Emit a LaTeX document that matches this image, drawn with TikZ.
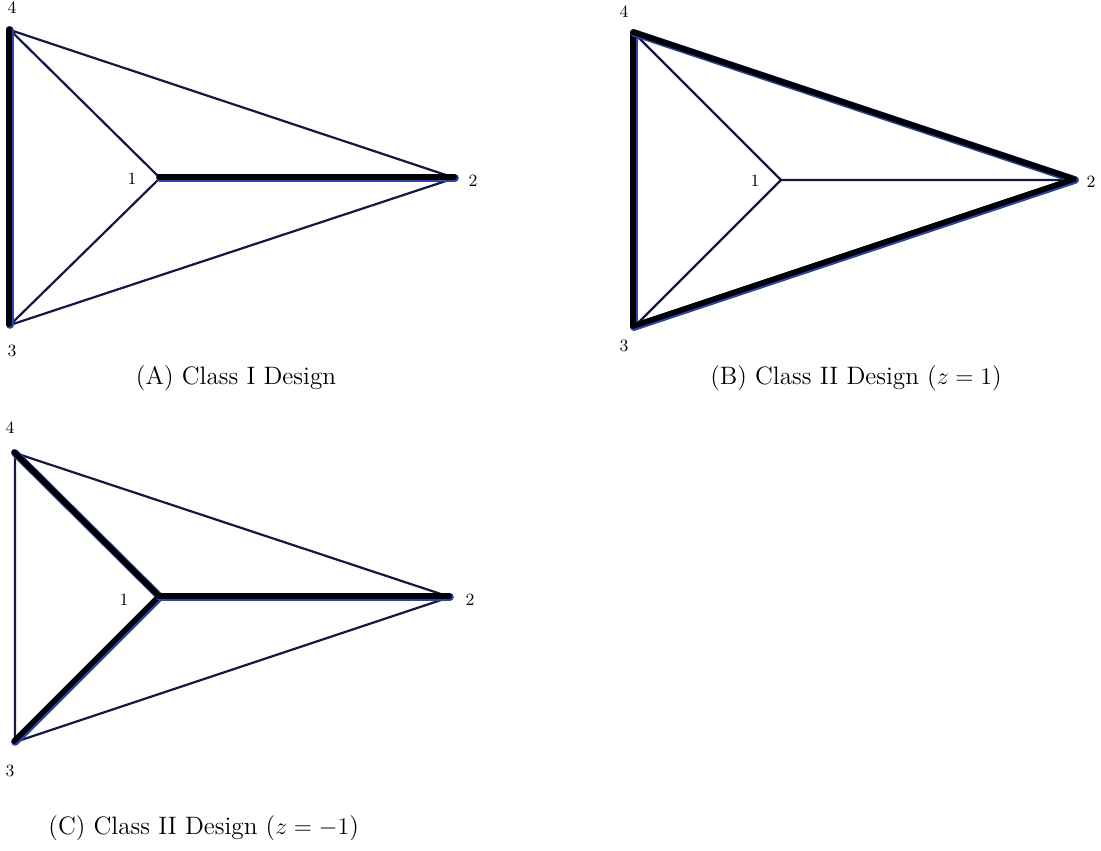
\documentclass[tikz,border=0pt]{standalone}
\usepackage{amsmath}
\usepackage{tikz}
\usepackage{xcolor}
\definecolor{edgeblue}{RGB}{45,70,170}
\definecolor{inkblue}{RGB}{20,22,70}
\tikzset{
  edgeline/.style={draw=inkblue,line width=1.1pt},
  boldedge/.style={draw=edgeblue,line width=3.8pt,line cap=round,
    postaction={draw=black,line width=2.8pt,line cap=round,
      transform canvas={shift={(-0.45pt,0.45pt)}}}},
  vlabel/.style={font=\fontsize{8.6}{10}\selectfont,inner sep=0pt},
  caption/.style={font=\fontsize{12.6}{15}\selectfont,inner sep=0pt}
}
\begin{document}
\begin{tikzpicture}[x=0.5pt,y=-0.5pt]
\useasboundingbox (0,0) rectangle (1101,850);
% (A) Class I Design
\coordinate (a1) at (160,178);
\coordinate (a2) at (455,178);
\coordinate (a3) at (10,325);
\coordinate (a4) at (10,30);
\draw[edgeline](a4)--(a2) (a3)--(a2) (a4)--(a1) (a3)--(a1);
\draw[boldedge](a4)--(a3);
\draw[boldedge](a1)--(a2);
\node[vlabel](la1) at (132,179){1};
\node[vlabel](la2) at (473,181){2};
\node[vlabel](la3) at (12,351){3};
\node[vlabel](la4) at (12,8){4};
\node[caption](capa) at (236,378){(A) Class I Design};
% (B) Class II Design, z=1
\coordinate (b1) at (781,180);
\coordinate (b2) at (1075,180);
\coordinate (b3) at (634,327);
\coordinate (b4) at (634,33);
\draw[edgeline](b4)--(b1) (b3)--(b1) (b1)--(b2);
\draw[boldedge](b4)--(b3);
\draw[boldedge](b4)--(b2);
\draw[boldedge](b3)--(b2);
\node[vlabel](lb1) at (755,181){1};
\node[vlabel](lb2) at (1091,182){2};
\node[vlabel](lb3) at (624,346){3};
\node[vlabel](lb4) at (624,12){4};
\node[caption](capb) at (856,378){(B) Class II Design ($z=1$)};
% (C) Class II Design, z=-1
\coordinate (c1) at (160,597);
\coordinate (c2) at (450,597);
\coordinate (c3) at (15,742);
\coordinate (c4) at (15,453);
\draw[edgeline](c4)--(c3) (c4)--(c2) (c3)--(c2);
\draw[boldedge](c4)--(c1);
\draw[boldedge](c3)--(c1);
\draw[boldedge](c1)--(c2);
\node[vlabel](lc1) at (124,600){1};
\node[vlabel](lc2) at (470,600){2};
\node[vlabel](lc3) at (10,771){3};
\node[vlabel](lc4) at (10,428){4};
\node[caption,anchor=west](capc) at (48,828){(C) Class II Design ($z=-1$)};
\end{tikzpicture}
\end{document}
